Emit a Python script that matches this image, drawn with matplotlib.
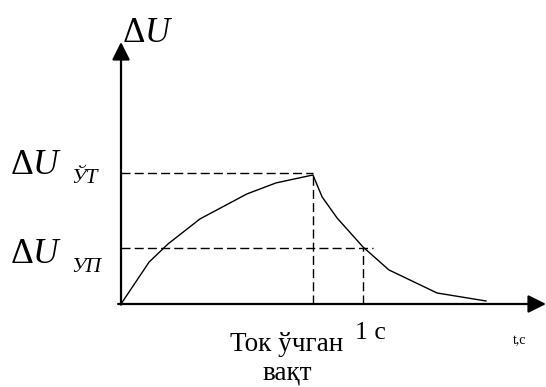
import matplotlib
matplotlib.use("Agg")
import matplotlib.pyplot as plt

plt.rcParams['font.family'] = ['Liberation Serif', 'DejaVu Serif']
plt.rcParams['mathtext.fontset'] = 'custom'
plt.rcParams['mathtext.rm'] = 'Liberation Serif'
plt.rcParams['mathtext.it'] = 'Liberation Serif:italic'

# кривая ΔU(t), t в секундах (1 с = отметка "1 с")
t = [0.0, 0.116, 0.194, 0.326, 0.52, 0.64, 0.793, 0.831, 0.893, 1.0, 1.107, 1.306, 1.508]
dU = [0.0, 0.32, 0.458, 0.649, 0.84, 0.924, 0.985, 0.817, 0.656, 0.435, 0.26, 0.084, 0.023]

dU_ut = 1.0       # ΔU ЎТ
dU_up = 0.427     # ΔU УП
t_peak = 0.793    # Ток ўчган вақт
t_one = 1.0       # 1 с

fig = plt.figure(figsize=(5.46, 3.87), dpi=100)
ax = fig.add_axes([0, 0, 1, 1])
ax.set_xlim(-0.5, 1.756)
ax.set_ylim(-0.6336, 2.3206)
ax.axis('off')

# оси со стрелками
arrow = dict(arrowstyle='-|>,head_length=0.54,head_width=0.27', lw=1.6,
             color='k', shrinkA=0, shrinkB=0, mutation_scale=20)
ax.annotate('', xy=(1.756, 0), xytext=(-0.012, 0), arrowprops=arrow)
ax.annotate('', xy=(0, 2.0), xytext=(0, -0.005), arrowprops=arrow)

ax.plot(t, dU, color='k', lw=1.0)

dash = (0, (6.5, 3))
ax.plot([0, t_peak], [dU_ut, dU_ut], color='k', lw=1.0, ls=dash)
ax.plot([0, 1.04], [dU_up, dU_up], color='k', lw=1.0, ls=dash)
ax.plot([t_peak, t_peak], [0, dU_ut], color='k', lw=1.0, ls=dash)
ax.plot([t_one, t_one], [0, dU_up], color='k', lw=1.0, ls=dash)

ax.text(0.004, 2.0, r'$\Delta U$', fontsize=25, ha='left', va='baseline')

# подписи уровней: ΔU и отдельный индекс
ax.text(-0.459, 0.992, r'$\Delta U$', fontsize=25.5, ha='left', va='baseline')
ax.text(-0.207, 0.924, 'ЎТ', fontsize=15.5, style='italic', ha='left', va='baseline')
ax.text(-0.459, 0.313, r'$\Delta U$', fontsize=25.5, ha='left', va='baseline')
ax.text(-0.207, 0.244, 'УП', fontsize=15.5, style='italic', ha='left', va='baseline')

ax.text(0.686, -0.359, 'Ток ўчган', fontsize=19.5, ha='center', va='baseline')
ax.text(0.686, -0.58, 'вақт', fontsize=19.5, ha='center', va='baseline')
ax.text(0.967, -0.267, '1 с', fontsize=18.5, ha='left', va='baseline')
ax.text(1.62, -0.305, 't,c', fontsize=10, ha='left', va='baseline')

plt.savefig('out.png', dpi=100)
